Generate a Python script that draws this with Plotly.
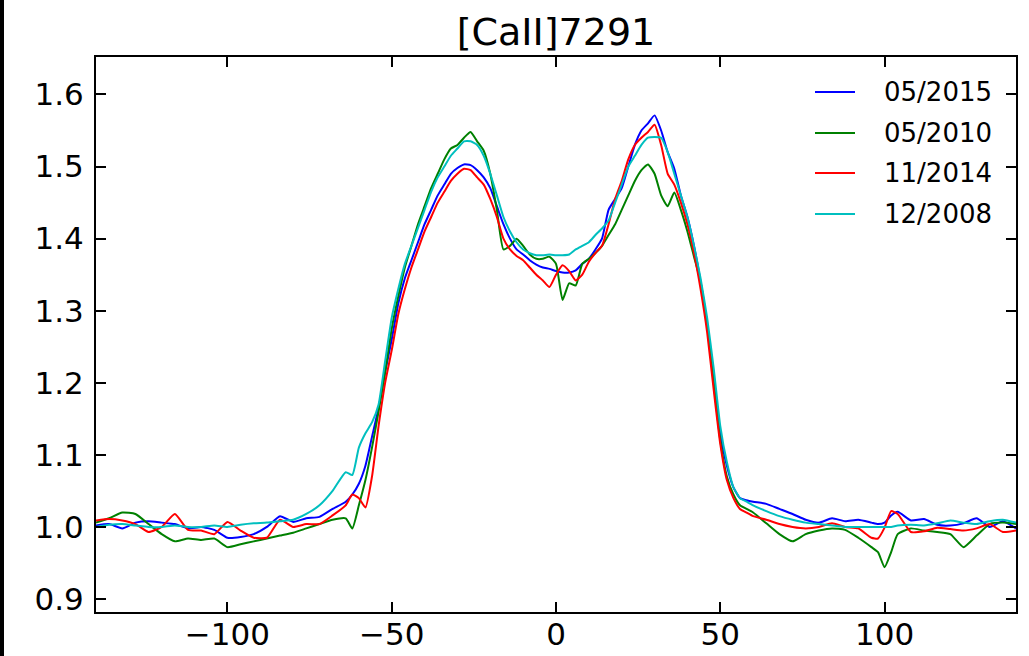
import plotly.graph_objects as go

velocity = [-140, -136, -132, -128, -124, -120, -116, -112, -108, -104, -100, -96, -92, -88, -84, -80, -76, -72, -68, -64,
            -62, -60, -58, -56, -54, -52, -50, -48, -46, -44, -42, -40, -38, -36, -34, -32, -30, -28, -26, -24,
            -22, -20, -18, -16, -14, -12, -10, -8, -6, -4, -2, 0, 2, 4, 6, 8, 10, 12, 14, 16,
            18, 20, 22, 24, 26, 28, 30, 32, 34, 36, 38, 40, 42, 44, 46, 48, 50, 52, 54, 56,
            58, 60, 64, 68, 72, 76, 80, 84, 88, 92, 96, 98, 100, 102, 104, 108, 112, 116, 120, 124,
            128, 132, 136, 140]

flux_2015_05 = [1.002, 1.004, 0.998, 1.006, 1.008, 1.006, 1.004, 0.998, 1.000, 0.996, 0.985, 0.986, 0.990, 1.000, 1.015, 1.007, 1.012, 1.014, 1.025, 1.035,
                1.045, 1.060, 1.085, 1.125, 1.165, 1.215, 1.260, 1.310, 1.345, 1.370, 1.395, 1.420, 1.440, 1.460, 1.475, 1.490, 1.498, 1.503, 1.502, 1.495,
                1.485, 1.470, 1.445, 1.420, 1.400, 1.385, 1.378, 1.370, 1.364, 1.360, 1.358, 1.355, 1.353, 1.353, 1.356, 1.365, 1.372, 1.385, 1.400, 1.440,
                1.455, 1.470, 1.500, 1.530, 1.550, 1.560, 1.571, 1.550, 1.520, 1.497, 1.460, 1.430, 1.390, 1.340, 1.280, 1.200, 1.130, 1.085, 1.055, 1.040,
                1.037, 1.035, 1.032, 1.025, 1.018, 1.010, 1.006, 1.012, 1.008, 1.010, 1.006, 1.004, 1.006, 1.016, 1.021, 1.009, 1.011, 1.003, 1.002, 1.005,
                1.012, 1.000, 1.008, 0.998]

flux_2010_05 = [1.006, 1.012, 1.020, 1.018, 1.004, 0.990, 0.980, 0.984, 0.982, 0.984, 0.972, 0.976, 0.980, 0.984, 0.988, 0.992, 0.998, 1.004, 1.010, 1.012,
                0.998, 1.030, 1.065, 1.110, 1.160, 1.215, 1.275, 1.320, 1.360, 1.390, 1.420, 1.445, 1.470, 1.490, 1.510, 1.525, 1.530, 1.540, 1.548, 1.535,
                1.522, 1.490, 1.440, 1.385, 1.390, 1.400, 1.390, 1.378, 1.372, 1.372, 1.375, 1.365, 1.315, 1.338, 1.335, 1.365, 1.372, 1.380, 1.390, 1.405,
                1.420, 1.440, 1.460, 1.480, 1.495, 1.503, 1.490, 1.460, 1.445, 1.464, 1.440, 1.410, 1.375, 1.340, 1.280, 1.200, 1.120, 1.070, 1.045, 1.030,
                1.025, 1.020, 1.005, 0.990, 0.980, 0.990, 0.995, 0.998, 0.996, 0.985, 0.972, 0.965, 0.944, 0.965, 0.990, 0.998, 0.995, 0.993, 0.990, 0.972,
                0.988, 1.004, 1.006, 1.004]

flux_2014_11 = [1.009, 1.011, 1.009, 1.004, 0.993, 1.000, 1.018, 0.996, 0.995, 0.990, 1.007, 0.995, 0.985, 0.985, 1.010, 1.000, 1.004, 1.004, 1.016, 1.030,
                1.045, 1.040, 1.027, 1.070, 1.140, 1.200, 1.245, 1.295, 1.330, 1.360, 1.385, 1.410, 1.430, 1.450, 1.465, 1.480, 1.490, 1.497, 1.495, 1.485,
                1.475, 1.455, 1.430, 1.400, 1.385, 1.376, 1.370, 1.360, 1.350, 1.342, 1.333, 1.350, 1.363, 1.355, 1.342, 1.350, 1.368, 1.380, 1.390, 1.420,
                1.455, 1.480, 1.510, 1.530, 1.540, 1.548, 1.558, 1.530, 1.490, 1.475, 1.450, 1.420, 1.380, 1.330, 1.270, 1.190, 1.115, 1.065, 1.040, 1.025,
                1.020, 1.015, 1.010, 1.004, 1.000, 0.998, 1.000, 1.005, 1.000, 0.998, 0.985, 0.984, 0.999, 1.022, 1.018, 0.993, 0.994, 0.999, 0.997, 0.995,
                0.998, 1.004, 0.993, 0.995]

flux_2008_12 = [1.000, 1.003, 1.004, 1.002, 1.000, 1.000, 1.002, 1.000, 1.000, 1.002, 1.000, 1.003, 1.005, 1.006, 1.008, 1.010, 1.018, 1.030, 1.050, 1.076,
                1.072, 1.110, 1.130, 1.145, 1.170, 1.230, 1.290, 1.330, 1.365, 1.390, 1.415, 1.440, 1.465, 1.485, 1.500, 1.515, 1.525, 1.535, 1.535, 1.530,
                1.515, 1.490, 1.460, 1.430, 1.410, 1.395, 1.385, 1.380, 1.377, 1.377, 1.378, 1.377, 1.377, 1.378, 1.385, 1.390, 1.395, 1.405, 1.414, 1.425,
                1.450, 1.475, 1.500, 1.515, 1.530, 1.540, 1.541, 1.540, 1.520, 1.490, 1.460, 1.430, 1.390, 1.345, 1.290, 1.220, 1.140, 1.090, 1.055, 1.040,
                1.035, 1.030, 1.022, 1.015, 1.010, 1.006, 1.004, 1.002, 1.000, 1.000, 1.000, 1.000, 1.000, 1.000, 1.002, 1.003, 1.002, 1.005, 1.009, 1.006,
                1.004, 1.008, 1.010, 1.006]

series_names = ["05/2015", "05/2010", "11/2014", "12/2008"]
series_values = [flux_2015_05, flux_2010_05, flux_2014_11, flux_2008_12]
series_colors = ["#0000ff", "#008000", "#ff0000", "#00bfbf"]

x_ticks = [-100, -50, 0, 50, 100]
y_ticks = [0.9, 1.0, 1.1, 1.2, 1.3, 1.4, 1.5, 1.6]
y_tick_text = ["0.9", "1.0", "1.1", "1.2", "1.3", "1.4", "1.5", "1.6"]

FONT = "DejaVu Sans"
W, H = 1029, 656
L, R, T, B = 96, 13, 57, 44
PW, PH = W - L - R, H - T - B

fig = go.Figure()
for name, vals, col in zip(series_names, series_values, series_colors):
    fig.add_trace(go.Scatter(x=velocity, y=vals, mode="lines", name=name,
                             line=dict(color=col, width=2, shape="spline", smoothing=0.5),
                             showlegend=False))

# legend drawn manually (frameless, matplotlib style)
legend_rows_px = [92, 133, 173, 214]
shapes = []
annotations = []
for name, col, py in zip(series_names, series_colors, legend_rows_px):
    yp = (H - B - py) / PH
    shapes.append(dict(type="line", xref="paper", yref="paper",
                       x0=(815 - L) / PW, x1=(855 - L) / PW, y0=yp, y1=yp,
                       line=dict(color=col, width=2)))
    annotations.append(dict(text=name, xref="paper", yref="paper",
                            x=(882 - L) / PW, y=yp, xanchor="left", yanchor="middle",
                            showarrow=False, font=dict(family=FONT, size=26, color="black")))

# black strip at left edge of the original screenshot
shapes.append(dict(type="rect", xref="paper", yref="paper",
                   x0=-L / PW - 0.01, x1=(4 - L) / PW, y0=-0.2, y1=1.3,
                   fillcolor="black", line=dict(width=0), layer="above"))

axis_common = dict(showline=True, linecolor="black", linewidth=2, mirror="ticks",
                   ticks="inside", ticklen=10, tickwidth=1.5, tickcolor="black",
                   showgrid=False, zeroline=False, automargin=False,
                   tickfont=dict(family=FONT, size=31, color="black"))

fig.update_layout(
    width=W, height=H,
    margin=dict(l=L, r=R, t=T, b=B, autoexpand=False),
    paper_bgcolor="white", plot_bgcolor="white",
    title=dict(text="[CaII]7291", x=0.5, xref="paper", xanchor="center",
               y=1 - 32 / H, yref="container", yanchor="middle", automargin=False,
               font=dict(family=FONT, size=38, color="black")),
    xaxis=dict(range=[-140, 140], tickvals=x_ticks, ticklabelstandoff=-6, **axis_common),
    yaxis=dict(range=[0.882, 1.652], tickvals=y_ticks, ticktext=y_tick_text,
               ticklabelstandoff=4, **axis_common),
    shapes=shapes,
    annotations=annotations,
)

fig.write_html("out.html",
               config={"displayModeBar": False},
               post_script="document.body.style.margin='0';document.body.style.overflow='hidden';")
